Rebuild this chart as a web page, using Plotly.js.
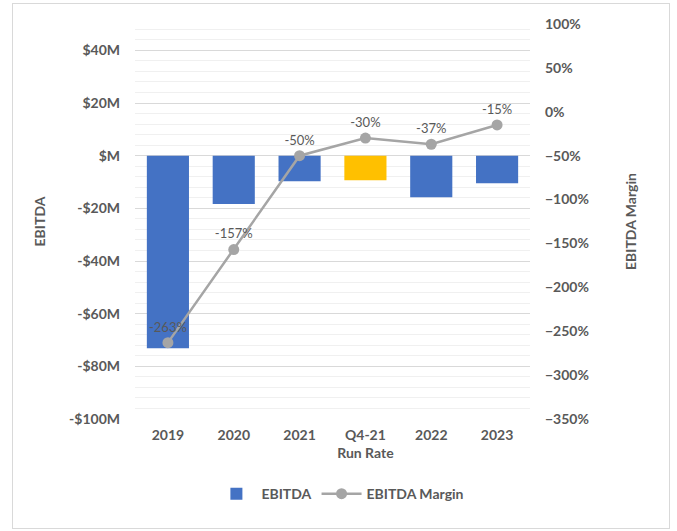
<!DOCTYPE html>
<html>
<head>
<meta charset="utf-8">
<script src="https://cdn.plot.ly/plotly-3.0.1.min.js"></script>
<style>
html,body{margin:0;padding:0;background:#fff;}
#chart{width:677px;height:531px;position:relative;}
#frame{position:absolute;left:12px;top:3px;width:656px;height:524px;border:1px solid #d9d9d9;pointer-events:none;}
</style>
</head>
<body>
<div id="wrap" style="position:relative;width:677px;height:531px;">
<div id="chart"></div>
<div id="frame"></div>
</div>
<script>
// Data
const categories = ["2019", "2020", "2021", "Q4-21<br>Run Rate", "2022", "2023"];
const ebitdaM = [-73.1, -18.4, -9.7, -9.3, -15.8, -10.5];
const marginPct = [-263, -157, -50, -30, -37, -15];
const barColors = ["#4472C4", "#4472C4", "#4472C4", "#FFC000", "#4472C4", "#4472C4"];
const leftTickVals = [-100, -80, -60, -40, -20, 0, 20, 40];
const leftTickText = ["-$100M", "-$80M", "-$60M", "-$40M", "-$20M", "$M", "$20M", "$40M"];

const fontFam = "Lato, 'Open Sans', sans-serif";
const txtColor = "#595959";

const traces = [
  {
    type: "bar",
    name: "EBITDA",
    x: categories,
    y: ebitdaM,
    marker: { color: barColors },
    yaxis: "y",
    hoverinfo: "skip"
  },
  {
    type: "scatter",
    mode: "lines+markers+text",
    name: "EBITDA Margin",
    x: categories,
    y: marginPct,
    yaxis: "y2",
    line: { color: "#A5A5A5", width: 2.5 },
    marker: { color: "#A5A5A5", size: 11 },
    text: marginPct.map(v => v + "%"),
    textposition: "top center",
    textfont: { family: fontFam, size: 13, color: "#595959", weight: "normal" },
    cliponaxis: false,
    hoverinfo: "skip"
  }
];

const layout = {
  width: 677,
  height: 531,
  margin: { l: 135, r: 147, t: 24, b: 112 },
  paper_bgcolor: "#ffffff",
  plot_bgcolor: "#ffffff",
  font: { family: fontFam, size: 14, color: txtColor, weight: "bold" },
  showlegend: true,
  bargap: 0.36,
  legend: {
    orientation: "h",
    x: 0.52,
    xanchor: "center",
    y: -0.19,
    yanchor: "middle",
    font: { family: fontFam, size: 14, color: txtColor, weight: "bold" },
    itemwidth: 40,
    traceorder: "normal"
  },
  xaxis: {
    type: "category",
    showgrid: false,
    zeroline: false,
    showline: false,
    ticks: "",
    tickfont: { family: fontFam, size: 14, color: txtColor, weight: "bold" },
    ticklabelstandoff: 6
  },
  yaxis: {
    range: [-100, 50],
    tickvals: leftTickVals,
    ticktext: leftTickText,
    showgrid: true,
    gridcolor: "#D9D9D9",
    gridwidth: 1,
    zeroline: false,
    showline: false,
    ticks: "",
    ticklabelstandoff: 14,
    tickfont: { family: fontFam, size: 14, color: txtColor, weight: "bold" },
    minor: { dtick: 4, tick0: 0, showgrid: true, gridcolor: "#F0F0F0", gridwidth: 1, ticks: "" },
    title: { text: "EBITDA", standoff: 20, font: { family: fontFam, size: 14, color: txtColor, weight: "bold" } }
  },
  yaxis2: {
    overlaying: "y",
    side: "right",
    range: [-350, 100],
    dtick: 50,
    ticksuffix: "%",
    showgrid: false,
    zeroline: false,
    showline: false,
    ticks: "",
    ticklabelstandoff: 14,
    tickfont: { family: fontFam, size: 14, color: txtColor, weight: "bold" },
    title: { text: "EBITDA Margin", standoff: 38, font: { family: fontFam, size: 14, color: txtColor, weight: "bold" } }
  }
};

Plotly.newPlot("chart", traces, layout, { displayModeBar: false, staticPlot: true });
</script>
</body>
</html>
